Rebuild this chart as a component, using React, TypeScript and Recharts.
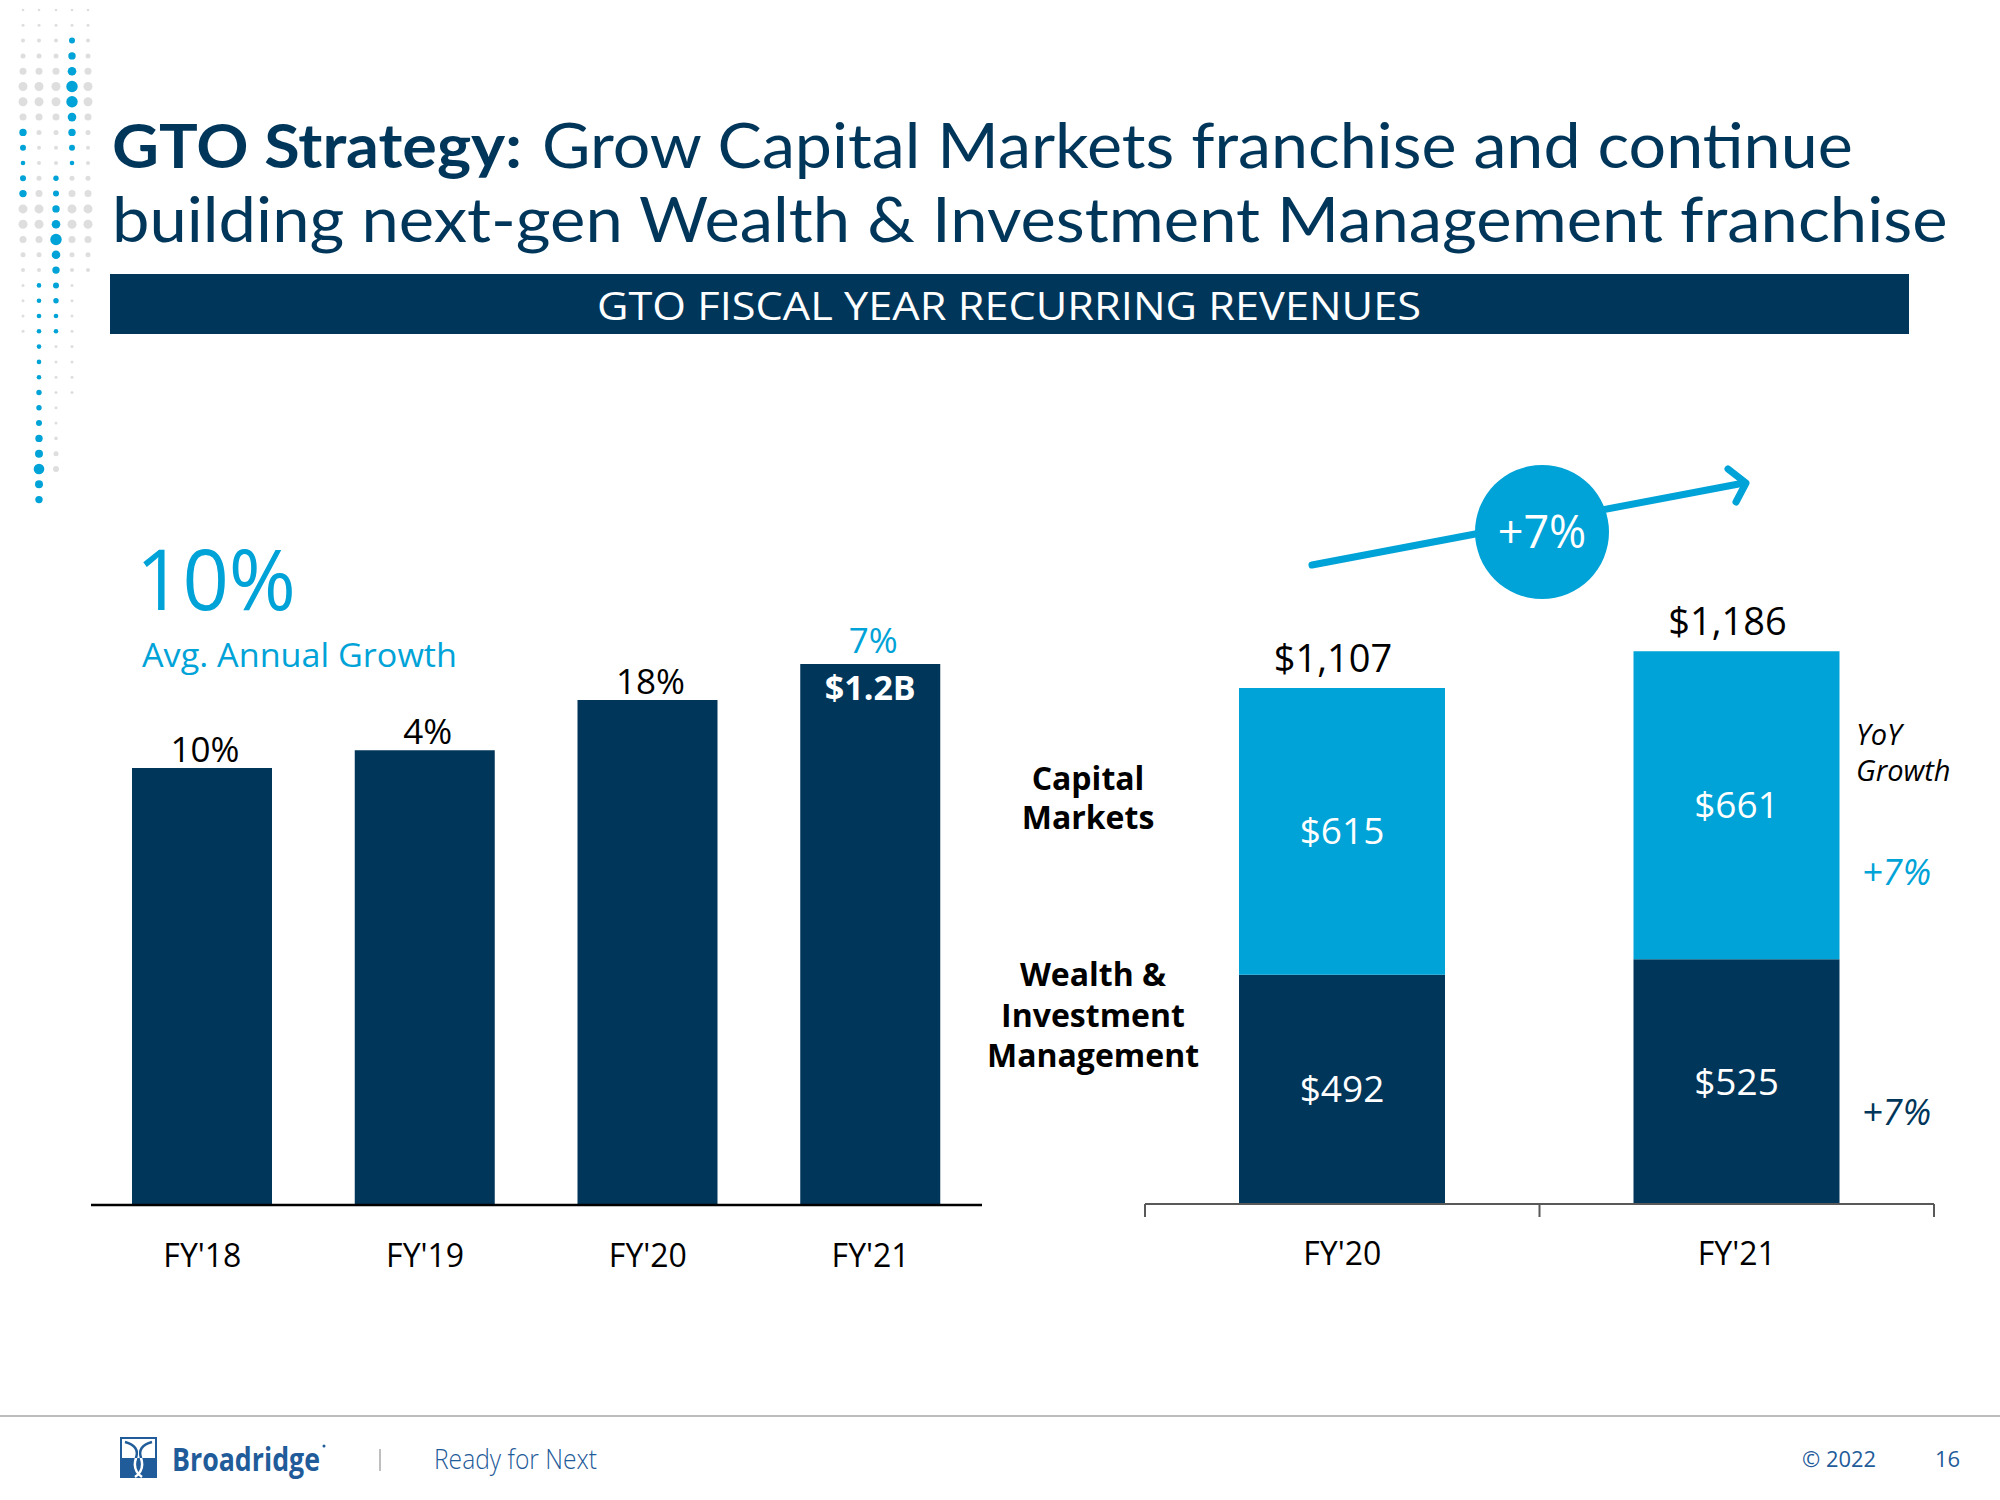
import React, { useLayoutEffect, useRef, useState } from 'react';
import { BarChart, Bar, XAxis, YAxis, LabelList } from 'recharts';

const NAVY = '#00365A';
const BLUE = '#00A3D7';
const LOGO = '#1F5C99';
const FONT = '"Open Sans", "Noto Sans", sans-serif';
const TITLE_FONT = 'Lato, "Open Sans", sans-serif';

// left chart: GTO recurring revenues ($M) and annual growth labels
const years = ["FY'18", "FY'19", "FY'20", "FY'21"];
const revenue = [958, 997, 1107, 1186];
const growth = ['10%', '4%', '18%', '7%'];
const latestTotal = '$1.2B';

// right chart: split by franchise ($M)
const splitYears = ["FY'20", "FY'21"];
const wealthMgmt = [492, 525];
const capitalMarkets = [615, 661];
const totals = ['$1,107', '$1,186'];

const leftData = years.map((year, i) => ({ year, revenue: revenue[i] }));
const rightData = splitYears.map((year, i) => ({
  year,
  wim: wealthMgmt[i],
  cm: capitalMarkets[i],
}));

// decorative dot column (top-left corner)
const dotColX = [23, 39, 56, 72, 88];
const grayRowRadius = [1.3, 1.5, 2, 2.5, 3.5, 4.5, 4.5, 3.5, 2.5, 2, 2, 2.5, 3.5, 4.5, 4.5, 3.5, 2.5, 2, 1.5, 1.5, 1.5, 1.5];
const blueCols: { col: number; start: number; radii: number[] }[] = [
  { col: 3, start: 2, radii: [3, 3.7, 4.3, 5.7, 5.7, 4.3, 3.7, 3, 2.3] },
  { col: 0, start: 8, radii: [3.7, 3, 2.3, 3, 3.7] },
  { col: 2, start: 11, radii: [2.7, 3, 3.7, 4.3, 5.7, 4.3, 3.7, 3, 2.7, 2.3, 2.3] },
  { col: 1, start: 18, radii: [2.3, 2.3, 2.3, 2.3, 2.3, 2.3, 2.3, 2.7, 2.7, 3, 3.7, 4, 5.3, 4, 3.7] },
];
const grayTails: { col: number; start: number; radii: number[] }[] = [
  { col: 3, start: 22, radii: [1.5, 1.5, 1.5, 1.5] },
  { col: 2, start: 22, radii: [1.5, 1.5, 1.5, 1.5, 1.5, 1.5, 1.8, 2.5, 3] },
];
const rowY = (row: number) => 10 + 15.3 * row;

const Dots = () => {
  const blueKey = new Set<string>();
  blueCols.forEach((c) => c.radii.forEach((_, k) => blueKey.add(`${c.col}-${c.start + k}`)));
  const gray: React.ReactNode[] = [];
  dotColX.forEach((x, col) => {
    grayRowRadius.forEach((r, row) => {
      if (col === 4 && row > 17) return;
      if (blueKey.has(`${col}-${row}`)) return;
      gray.push(<circle key={`g${col}-${row}`} cx={x} cy={rowY(row)} r={r} fill="#dedede" />);
    });
  });
  grayTails.forEach((c) =>
    c.radii.forEach((r, k) =>
      gray.push(<circle key={`t${c.col}-${k}`} cx={dotColX[c.col]} cy={rowY(c.start + k)} r={r} fill="#dedede" />)
    )
  );
  return (
    <g>
      {gray}
      {blueCols.map((c) =>
        c.radii.map((r, k) => (
          <circle key={`b${c.col}-${k}`} cx={dotColX[c.col]} cy={rowY(c.start + k)} r={r} fill={BLUE} />
        ))
      )}
    </g>
  );
};

// text squeezed horizontally to a target width (stand-in for the narrow slide font)
const FitText = ({ x, y, width, children, ...rest }: any) => {
  const ref = useRef<SVGTextElement>(null);
  const [sx, setSx] = useState(1);
  useLayoutEffect(() => {
    if (ref.current) {
      const natural = ref.current.getComputedTextLength();
      if (natural > 0) setSx(width / natural);
    }
  }, [width]);
  return (
    <text ref={ref} x={0} y={0} transform={`translate(${x},${y}) scale(${sx},1)`} {...rest}>
      {children}
    </text>
  );
};

const GrowthLabel = (props: any) => {
  const { x, y, width, index } = props;
  const cx = x + width / 2;
  const last = index === growth.length - 1;
  return (
    <g fontFamily={FONT}>
      <text x={cx + 3} y={y - (last ? 11 : 6)} textAnchor="middle" fontSize={35} fill={last ? BLUE : '#000'}>
        {growth[index]}
      </text>
      {last && (
        <text x={cx} y={y + 36} textAnchor="middle" fontSize={34} fontWeight="bold" fill="#fff">
          {latestTotal}
        </text>
      )}
    </g>
  );
};

const InnerLabel = (props: any) => {
  const { x, y, width, height, value } = props;
  return (
    <text x={x + width / 2} y={y + height / 2 + 13} textAnchor="middle" fontSize={37} fill="#fff" fontFamily={FONT}>
      {`$${value}`}
    </text>
  );
};

const TotalLabel = (props: any) => {
  const { x, y, width, index } = props;
  return (
    <text x={x + width / 2 - 9} y={y - 16} textAnchor="middle" fontSize={38} fill="#000" fontFamily={FONT}>
      {totals[index]}
    </text>
  );
};

const LeftTick = (props: any) => {
  const { x, y, payload } = props;
  return (
    <text x={x} y={y + 62} textAnchor="middle" fontSize={32} fill="#000" fontFamily={FONT}>
      {payload.value}
    </text>
  );
};

const RightTick = (props: any) => {
  const { x, y, payload, index, visibleTicksCount, width } = props;
  const half = payload.offset ?? width / visibleTicksCount / 2;
  return (
    <g>
      <line x1={x - half} x2={x - half} y1={y} y2={y + 13} stroke="#595959" strokeWidth={2} />
      {index === visibleTicksCount - 1 && (
        <line x1={x + half} x2={x + half} y1={y} y2={y + 13} stroke="#595959" strokeWidth={2} />
      )}
      <text x={x} y={y + 61} textAnchor="middle" fontSize={32} fill="#000" fontFamily={FONT}>
        {payload.value}
      </text>
    </g>
  );
};

const Overlay = () => (
  <svg width={2000} height={1500} style={{ position: 'absolute', left: 0, top: 0 }} fontFamily={FONT}>
    <Dots />

    <g fontFamily={TITLE_FONT} fontSize={61} fill={NAVY}>
      <FitText x={112} y={168} width={410} fontWeight="bold">
        GTO Strategy:
      </FitText>
      <FitText x={542} y={168} width={1311}>
        Grow Capital Markets franchise and continue
      </FitText>
      <FitText x={112} y={242} width={1836}>
        building next-gen Wealth &amp; Investment Management franchise
      </FitText>
    </g>

    <rect x={110} y={274} width={1799} height={60} fill={NAVY} />
    <text x={1009} y={320} fontSize={38} fill="#fff" textAnchor="middle" textLength={824} lengthAdjust="spacingAndGlyphs">
      GTO FISCAL YEAR RECURRING REVENUES
    </text>

    <text x={136} y={610} fontSize={85} fill={BLUE} textLength={160} lengthAdjust="spacingAndGlyphs">
      10%
    </text>
    <text x={142} y={667} fontSize={32} fill={BLUE} textLength={315} lengthAdjust="spacingAndGlyphs">
      Avg. Annual Growth
    </text>

    {/* growth arrow + badge */}
    <line x1={1312} y1={565} x2={1744} y2={483} stroke={BLUE} strokeWidth={7} strokeLinecap="round" />
    <polyline points="1728,469 1746,483 1736,502" fill="none" stroke={BLUE} strokeWidth={7} strokeLinecap="round" strokeLinejoin="round" />
    <circle cx={1542} cy={532} r={67} fill={BLUE} />
    <text x={1542} y={548} fontSize={45} fill="#fff" textAnchor="middle">+7%</text>

    {/* segment names */}
    <g fontSize={32} fontWeight="bold" fill="#000" textAnchor="middle">
      <text x={1088} y={790}>Capital</text>
      <text x={1088} y={829}>Markets</text>
      <text x={1093} y={986}>Wealth &amp;</text>
      <text x={1093} y={1027}>Investment</text>
      <text x={1093} y={1067}>Management</text>
    </g>

    <g fontStyle="italic">
      <text x={1856} y={745} fontSize={29} fill="#000">YoY</text>
      <text x={1856} y={781} fontSize={29} fill="#000">Growth</text>
      <text x={1862} y={885} fontSize={36} fill={BLUE}>+7%</text>
      <text x={1862} y={1125} fontSize={36} fill={NAVY}>+7%</text>
    </g>

    {/* footer */}
    <line x1={0} x2={2000} y1={1416} y2={1416} stroke="#bdbdbd" strokeWidth={2} />
    <defs>
      <clipPath id="logoBottom">
        <rect x={120} y={1458} width={37} height={20} />
      </clipPath>
    </defs>
    <rect x={121} y={1438} width={35} height={39} fill="#fff" stroke={LOGO} strokeWidth={2} />
    <rect x={120} y={1458} width={37} height={20} fill={LOGO} />
    <g fill="none" strokeWidth={2.5}>
      <path d="M125 1442 Q140 1446 136 1458 Q132 1470 142 1477" stroke={LOGO} />
      <path d="M152 1442 Q137 1446 141 1458 Q145 1470 135 1477" stroke={LOGO} />
      <path d="M125 1442 Q140 1446 136 1458 Q132 1470 142 1477" stroke="#fff" clipPath="url(#logoBottom)" />
      <path d="M152 1442 Q137 1446 141 1458 Q145 1470 135 1477" stroke="#fff" clipPath="url(#logoBottom)" />
    </g>
    <text x={172} y={1471} fontSize={33} fontWeight="bold" fill={LOGO} textLength={148} lengthAdjust="spacingAndGlyphs">
      Broadridge
    </text>
    <circle cx={324} cy={1446} r={1.5} fill={LOGO} />
    <line x1={380} x2={380} y1={1449} y2={1471} stroke="#aaaaaa" strokeWidth={1.5} />
    <text x={434} y={1469} fontSize={28} fontWeight={300} fill={LOGO} textLength={163} lengthAdjust="spacingAndGlyphs">
      Ready for Next
    </text>
    <text x={1802} y={1467} fontSize={22} fill={LOGO} textLength={74} lengthAdjust="spacingAndGlyphs">
      © 2022
    </text>
    <text x={1935} y={1467} fontSize={22} fill={LOGO}>16</text>
  </svg>
);

export default function App() {
  return (
    <div style={{ position: 'relative', width: 2000, height: 1500, background: '#fff', fontFamily: FONT, overflow: 'hidden' }}>
      <style>{'body{margin:0}'}</style>
      <Overlay />

      <div style={{ position: 'absolute', left: 60, top: 560 }}>
        <BarChart width={960} height={760} data={leftData} margin={{ top: 52, left: 31, right: 38, bottom: 55 }}>
          <XAxis
            dataKey="year"
            height={60}
            tickLine={false}
            tickSize={0}
            tickMargin={0}
            axisLine={{ stroke: '#000', strokeWidth: 2.5 }}
            tick={<LeftTick />}
            interval={0}
          />
          <YAxis hide domain={[0, 1300]} />
          <Bar dataKey="revenue" fill={NAVY} barSize={140} isAnimationActive={false}>
            <LabelList dataKey="revenue" content={<GrowthLabel />} />
          </Bar>
        </BarChart>
      </div>

      <div style={{ position: 'absolute', left: 1100, top: 560 }}>
        <BarChart width={880} height={760} data={rightData} margin={{ top: 38, left: 45, right: 46, bottom: 56 }}>
          <XAxis
            dataKey="year"
            height={60}
            tickLine={false}
            tickSize={0}
            tickMargin={0}
            axisLine={{ stroke: '#595959', strokeWidth: 2 }}
            tick={<RightTick />}
            interval={0}
          />
          <YAxis hide domain={[0, 1300]} />
          <Bar dataKey="wim" stackId="a" fill={NAVY} barSize={206} isAnimationActive={false}>
            <LabelList dataKey="wim" content={<InnerLabel />} />
          </Bar>
          <Bar dataKey="cm" stackId="a" fill={BLUE} barSize={206} isAnimationActive={false}>
            <LabelList dataKey="cm" content={<InnerLabel />} />
            <LabelList dataKey="cm" content={<TotalLabel />} />
          </Bar>
        </BarChart>
      </div>
    </div>
  );
}
